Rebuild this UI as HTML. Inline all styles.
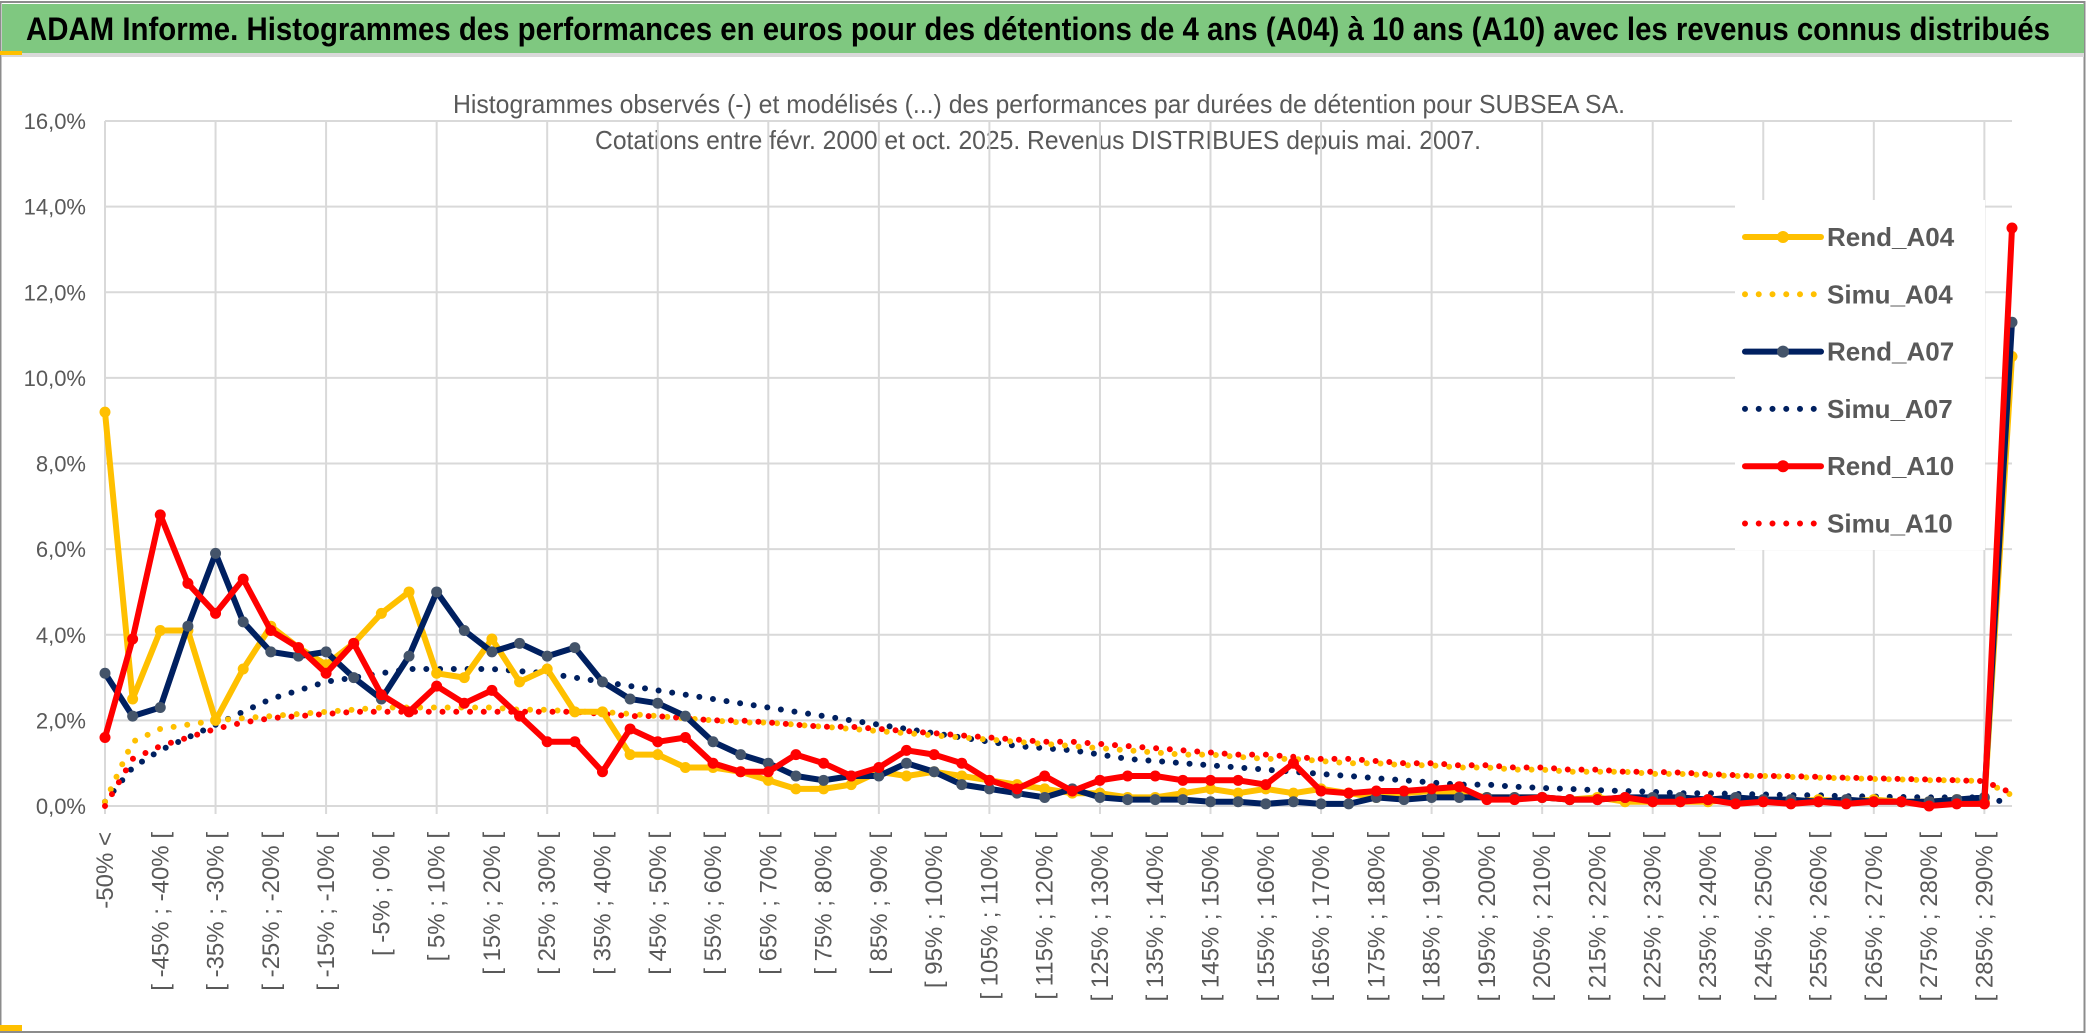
<!DOCTYPE html>
<html><head><meta charset="utf-8">
<style>
html,body{margin:0;padding:0;background:#fff;}
svg{display:block;}
</style></head>
<body>
<svg id="chart" width="2086" height="1033" xmlns="http://www.w3.org/2000/svg" font-family="'Liberation Sans Narrow','Liberation Sans',sans-serif">
  <rect x="0" y="0" width="2086" height="1033" fill="#fff"/>
  <rect x="0.5" y="2" width="2084" height="1030" fill="none" stroke="#8c8c8c" stroke-width="2"/>
  <rect x="2" y="4" width="2082" height="49" fill="#7fc880"/>
  <rect x="2" y="53" width="2082" height="4" fill="#d9d9d9"/>
  <rect x="0" y="51" width="22" height="4" fill="#ffc000"/>
  <rect x="0" y="1025" width="22" height="6" fill="#ffc000"/>
  <text x="26" y="40" font-size="32" font-weight="bold" fill="#000" textLength="2024" lengthAdjust="spacingAndGlyphs">ADAM Informe. Histogrammes des performances en euros pour des détentions de 4 ans (A04) à 10 ans (A10) avec les revenus connus distribués</text>
  <text x="1039" y="113" font-size="26" fill="#595959" text-anchor="middle" textLength="1172" lengthAdjust="spacingAndGlyphs">Histogrammes observés (-) et modélisés (...) des performances par durées de détention pour SUBSEA SA.</text>
  <text x="1038" y="149" font-size="26" fill="#595959" text-anchor="middle" textLength="886" lengthAdjust="spacingAndGlyphs">Cotations entre févr. 2000 et oct. 2025. Revenus DISTRIBUES depuis mai. 2007.</text>
  <g id="grid"></g>
  <g id="series"></g>
  <g id="xlabels"></g>
  <g id="ylabels"></g>
  <g id="legend"></g>
</svg>
<script>
const categories = ["-50% <"];
for (let a = -50; a < 290; a += 5) categories.push("[ " + a + "% ; " + (a + 5) + "% [");
categories.push("> 290%");
const yTicks = [0, 2, 4, 6, 8, 10, 12, 14, 16];
const yTickLabels = ["0,0%", "2,0%", "4,0%", "6,0%", "8,0%", "10,0%", "12,0%", "14,0%", "16,0%"];
const rendA04 = [9.2,2.5,4.1,4.1,2.0,3.2,4.2,3.7,3.3,3.8,4.5,5.0,3.1,3.0,3.9,2.9,3.2,2.2,2.2,1.2,1.2,0.9,0.9,0.8,0.6,0.4,0.4,0.5,0.8,0.7,0.8,0.7,0.6,0.5,0.4,0.3,0.3,0.2,0.2,0.3,0.4,0.3,0.4,0.3,0.4,0.3,0.2,0.3,0.35,0.3,0.2,0.2,0.2,0.15,0.2,0.1,0.1,0.1,0.1,0.15,0.1,0.1,0.15,0.1,0.15,0.1,0.1,0.15,0.1,10.5];
const rendA07 = [3.1,2.1,2.3,4.2,5.9,4.3,3.6,3.5,3.6,3.0,2.5,3.5,5.0,4.1,3.6,3.8,3.5,3.7,2.9,2.5,2.4,2.1,1.5,1.2,1.0,0.7,0.6,0.7,0.7,1.0,0.8,0.5,0.4,0.3,0.2,0.4,0.2,0.15,0.15,0.15,0.1,0.1,0.05,0.1,0.05,0.05,0.2,0.15,0.2,0.2,0.2,0.2,0.2,0.15,0.15,0.2,0.2,0.2,0.15,0.2,0.15,0.15,0.1,0.15,0.1,0.1,0.1,0.15,0.2,11.3];
const rendA10 = [1.6,3.9,6.8,5.2,4.5,5.3,4.1,3.7,3.1,3.8,2.6,2.2,2.8,2.4,2.7,2.1,1.5,1.5,0.8,1.8,1.5,1.6,1.0,0.8,0.8,1.2,1.0,0.7,0.9,1.3,1.2,1.0,0.6,0.4,0.7,0.35,0.6,0.7,0.7,0.6,0.6,0.6,0.5,1.0,0.35,0.3,0.35,0.35,0.4,0.45,0.15,0.15,0.2,0.15,0.15,0.2,0.1,0.1,0.15,0.05,0.1,0.05,0.1,0.05,0.1,0.1,0.0,0.05,0.05,13.5];
const simuA04 = [0.1,1.5,1.8,1.9,2.0,2.05,2.1,2.15,2.2,2.25,2.3,2.3,2.3,2.3,2.3,2.25,2.25,2.2,2.2,2.15,2.1,2.05,2.0,1.95,1.95,1.9,1.85,1.8,1.75,1.7,1.65,1.6,1.55,1.5,1.45,1.4,1.35,1.3,1.25,1.2,1.2,1.15,1.1,1.1,1.05,1.0,1.0,0.95,0.95,0.9,0.9,0.85,0.85,0.8,0.8,0.8,0.75,0.75,0.72,0.7,0.7,0.68,0.66,0.65,0.63,0.62,0.6,0.6,0.58,0.25];
const simuA07 = [0.1,0.9,1.3,1.6,1.9,2.2,2.5,2.7,2.9,3.0,3.1,3.2,3.2,3.2,3.2,3.15,3.1,3.0,2.9,2.8,2.7,2.6,2.5,2.4,2.3,2.2,2.1,2.0,1.9,1.8,1.7,1.6,1.5,1.4,1.35,1.3,1.2,1.1,1.05,1.0,0.95,0.9,0.85,0.8,0.75,0.7,0.65,0.6,0.55,0.5,0.5,0.45,0.42,0.4,0.37,0.35,0.33,0.3,0.3,0.28,0.27,0.25,0.25,0.23,0.22,0.21,0.2,0.2,0.2,0.05];
const simuA10 = [0.0,1.1,1.4,1.6,1.8,1.95,2.05,2.1,2.15,2.2,2.2,2.2,2.2,2.2,2.2,2.2,2.2,2.2,2.15,2.1,2.1,2.05,2.0,2.0,1.95,1.9,1.85,1.85,1.8,1.75,1.7,1.65,1.6,1.55,1.5,1.5,1.45,1.4,1.35,1.3,1.25,1.2,1.2,1.15,1.1,1.1,1.05,1.0,1.0,0.95,0.95,0.9,0.9,0.85,0.85,0.8,0.8,0.78,0.75,0.72,0.7,0.7,0.68,0.66,0.65,0.63,0.62,0.6,0.58,0.3];

const NS = "http://www.w3.org/2000/svg";
const X0 = 105, X1 = 2012, Y0 = 806, Y1 = 121;
const step = (X1 - X0) / (categories.length - 1);
function xPos(i) { return X0 + i * step; }
function yPos(v) { return Y0 - (v / 16) * (Y0 - Y1); }
function mk(tag, attrs, parent) {
  const e = document.createElementNS(NS, tag);
  for (const k in attrs) e.setAttribute(k, attrs[k]);
  parent.appendChild(e);
  return e;
}
const grid = document.getElementById("grid");
yTicks.forEach(function (t, i) {
  const l = mk("line", {x1: X0, x2: X1, y1: yPos(t), y2: yPos(t), stroke: "#d9d9d9", "stroke-width": 2}, grid);
  
  
  const tx = mk("text", {x: 86, y: yPos(t) + 8, "font-size": 22, fill: "#595959", "text-anchor": "end"}, document.getElementById("ylabels"));
  tx.textContent = yTickLabels[i];
  
  
});
for (let i = 0; i < categories.length; i += 4) {
  const l = mk("line", {x1: xPos(i), x2: xPos(i), y1: Y1, y2: Y0 + 8, stroke: "#d9d9d9", "stroke-width": 2}, grid);
  
  
}
const xl = document.getElementById("xlabels");
for (let i = 0; i < categories.length - 1; i += 2) {
  const x = xPos(i) + 8, y = 832;
  const t = mk("text", {x: x, y: y, "font-size": 24, fill: "#595959", "text-anchor": "end", "font-family": "'Liberation Sans',sans-serif", transform: "rotate(-90 " + x + " " + y + ")"}, xl);
  t.textContent = categories[i];
  
  
}
const sg = document.getElementById("series");
function pts(arr) { return arr.map(function (v, i) { return xPos(i).toFixed(1) + "," + yPos(v).toFixed(1); }).join(" "); }
function dotted(arr, color, name) {
  const p = mk("polyline", {points: pts(arr), fill: "none", stroke: color, "stroke-width": 6, "stroke-linecap": "round", "stroke-dasharray": "0 13.75"}, sg);
  
  
}
function solid(arr, color, mcolor, name) {
  const p = mk("polyline", {points: pts(arr), fill: "none", stroke: color, "stroke-width": 6, "stroke-linejoin": "round"}, sg);
  
  
  arr.forEach(function (v, i) {
    const c = mk("circle", {cx: xPos(i), cy: yPos(v), r: 5.5, fill: mcolor}, sg);
    
    
  });
}
dotted(simuA07, "#002060", "simu-a07-line");
dotted(simuA04, "#ffc000", "simu-a04-line");
dotted(simuA10, "#ff0000", "simu-a10-line");
solid(rendA04, "#ffc000", "#ffc000", "rend-a04-line");
solid(rendA07, "#002060", "#44546a", "rend-a07-line");
solid(rendA10, "#ff0000", "#ff0000", "rend-a10-line");

const lg = document.getElementById("legend");
const bg = mk("rect", {x: 1735, y: 200, width: 250, height: 350, fill: "#fff"}, lg);


const legNames = ["Rend_A04", "Simu_A04", "Rend_A07", "Simu_A07", "Rend_A10", "Simu_A10"];
const legColors = ["#ffc000", "#ffc000", "#002060", "#002060", "#ff0000", "#ff0000"];
const legMarker = ["#ffc000", null, "#44546a", null, "#ff0000", null];
legNames.forEach(function (n, i) {
  const y = 237 + i * 57.3;
  const g = mk("g", {}, lg);
  
  
  if (i % 2 === 0) {
    mk("line", {x1: 1745, x2: 1821, y1: y, y2: y, stroke: legColors[i], "stroke-width": 6, "stroke-linecap": "round"}, g);
    mk("circle", {cx: 1783, cy: y, r: 6, fill: legMarker[i]}, g);
  } else {
    mk("line", {x1: 1745, x2: 1820, y1: y, y2: y, stroke: legColors[i], "stroke-width": 6, "stroke-linecap": "round", "stroke-dasharray": "0 13.75"}, g);
  }
  const t = mk("text", {x: 1827, y: y + 9, "font-size": 26, "font-weight": "bold", fill: "#595959", "font-family": "'Liberation Sans',sans-serif"}, g);
  t.textContent = n;
});
</script>
</body></html>
